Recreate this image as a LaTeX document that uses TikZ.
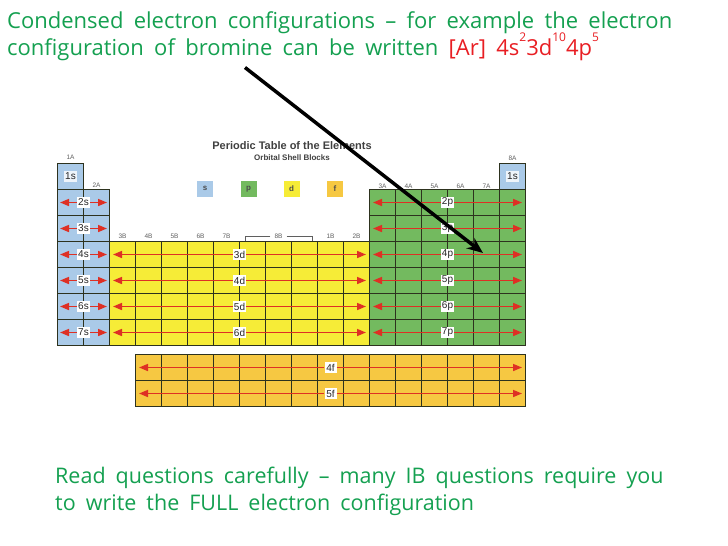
\documentclass[tikz,border=0pt]{standalone}
\usepackage{fontspec}
\setmainfont{Open Sans}[WordSpace=1.8]
\newfontfamily\tablefont{Liberation Sans}
\usetikzlibrary{arrows.meta,positioning}
\definecolor{slidegreen}{RGB}{20,160,80}
\definecolor{slidered}{RGB}{232,30,35}
\definecolor{sblue}{RGB}{170,202,232}
\definecolor{pgreen}{RGB}{115,186,95}
\definecolor{dyellow}{RGB}{246,236,55}
\definecolor{forange}{RGB}{246,200,66}
\definecolor{shellred}{RGB}{222,48,36}
\definecolor{gridline}{RGB}{45,50,30}
\definecolor{grouptext}{RGB}{95,95,95}
\newcommand{\elecsup}[1]{\raisebox{14pt}{\fontsize{12}{12}\selectfont #1}}
\tikzset{
  slide text/.style={
    anchor=base west, inner sep=0pt, text=slidegreen,
    font=\fontsize{21.5}{27}\selectfont
  },
  block cell/.style={draw=gridline, line width=1.1pt},
  shell label/.style={
    fill=white, inner sep=1pt, minimum width=12pt, minimum height=11pt,
    font=\tablefont\fontsize{10}{10}\selectfont, text=black!85
  },
  shell arrow/.style={-{Triangle[length=9pt,width=7pt]}, line width=1.6pt, shellred},
  group label/.style={inner sep=0pt, text=grouptext, font=\tablefont\fontsize{6.5}{6.5}\selectfont},
  legend box/.style={
    minimum width=16pt, minimum height=16pt, inner sep=0pt,
    font=\tablefont\bfseries\fontsize{8}{8}\selectfont, text=black!70
  },
  pointer arrow/.style={-{Stealth[length=16pt,width=13pt]}, line width=3.5pt, black}
}

\begin{document}
\begin{tikzpicture}[x=1pt, y=-1pt]
    \useasboundingbox (0,0) rectangle (728,546);
    % block colours
    \fill[sblue] (57.5,163.5) rectangle (83.5,189.5);
    \fill[sblue] (57.5,189.5) rectangle (109.5,345.5);
    \fill[sblue] (499.5,163.5) rectangle (525.5,189.5);
    \fill[dyellow] (109.5,241.5) rectangle (369.5,345.5);
    \fill[pgreen] (369.5,189.5) rectangle (525.5,345.5);
    \fill[forange] (135.5,354.5) rectangle (525.5,406.5);
    % grid
    \draw[block cell] (57.5,163.5) rectangle ++(26,26);
    \draw[block cell] (499.5,163.5) rectangle ++(26,26);
    \foreach \r in {2,...,7}
      \foreach \c in {1,2,13,14,15,16,17,18}
        \draw[block cell] ({57.5+(\c-1)*26},{163.5+(\r-1)*26}) rectangle ++(26,26);
    \foreach \r in {4,...,7}
      \foreach \c in {3,...,12}
        \draw[block cell] ({57.5+(\c-1)*26},{163.5+(\r-1)*26}) rectangle ++(26,26);
    \foreach \r in {0,1}
      \foreach \c in {4,...,18}
        \draw[block cell] ({57.5+(\c-1)*26},{354.5+\r*26}) rectangle ++(26,26);
    % shells
    \node[shell label, fill=white!80!sblue] (h1s) at (70.5,176) {1s};
    \node[shell label, fill=white!80!sblue] (he1s) at (512.5,176) {1s};
    \foreach \n in {2,...,7} {
      \pgfmathsetmacro{\yc}{163.5+(\n-0.5)*26}
      \node[shell label] (s\n) at (83.5,\yc) {\n s};
      \coordinate (s\n-w) at (60,\yc);
      \coordinate (s\n-e) at (107,\yc);
      \draw[shell arrow] (s\n) -- (s\n-w);
      \draw[shell arrow] (s\n) -- (s\n-e);
      \node[shell label] (p\n) at (447.5,\yc) {\n p};
      \coordinate (p\n-w) at (373,\yc);
      \coordinate (p\n-e) at (522,\yc);
      \draw[shell arrow] (p\n) -- (p\n-w);
      \draw[shell arrow] (p\n) -- (p\n-e);
    }
    \foreach \n in {3,...,6} {
      \pgfmathsetmacro{\yc}{163.5+(\n+0.5)*26}
      \node[shell label] (d\n) at (239.5,\yc) {\n d};
      \coordinate (d\n-w) at (113,\yc);
      \coordinate (d\n-e) at (366,\yc);
      \draw[shell arrow] (d\n) -- (d\n-w);
      \draw[shell arrow] (d\n) -- (d\n-e);
    }
    \foreach \n in {4,5} {
      \pgfmathsetmacro{\yc}{367.5+(\n-4)*26}
      \node[shell label] (f\n) at (330.5,\yc) {\n f};
      \coordinate (f\n-w) at (139,\yc);
      \coordinate (f\n-e) at (522,\yc);
      \draw[shell arrow] (f\n) -- (f\n-w);
      \draw[shell arrow] (f\n) -- (f\n-e);
    }
    % group labels
    \node[group label] (g1A) at (70.5,157) {1A};
    \node[group label] (g2A) at (96.5,185) {2A};
    \foreach \g [count=\c from 3] in {3B,4B,5B,6B,7B}
      \node[group label] (g\g) at ({57.5+(\c-0.5)*26},236.5) {\g};
    \node[group label, inner xsep=4pt] (g8B) at (278.5,236.5) {8B};
    \coordinate (b8l) at (245,236.5);
    \coordinate (b8r) at (312,236.5);
    \draw[grouptext, line width=0.5pt] (g8B.west) -- (b8l) -- ++(0,4);
    \draw[grouptext, line width=0.5pt] (g8B.east) -- (b8r) -- ++(0,4);
    \node[group label] (g1B) at (330.5,236.5) {1B};
    \node[group label] (g2B) at (356.5,236.5) {2B};
    \foreach \g [count=\c from 13] in {3A,4A,5A,6A,7A}
      \node[group label] (g\g) at ({57.5+(\c-0.5)*26},186) {\g};
    \node[group label] (g8A) at (512.5,158.5) {8A};
    % title and legend
    \node[text=black!75, font=\tablefont\bfseries\fontsize{11}{11}\selectfont] (ptitle) at (292,145.5) {Periodic Table of the Elements};
    \node[text=black!75, font=\tablefont\bfseries\fontsize{8}{8}\selectfont] (psub) at (292,158) {Orbital Shell Blocks};
    \node[legend box, fill=sblue] (key s) at (205,188.7) {s};
    \node[legend box, fill=pgreen] (key p) at (248.5,188.7) {p};
    \node[legend box, fill=dyellow] (key d) at (291.5,188.7) {d};
    \node[legend box, fill=forange] (key f) at (335,188.7) {f};
    % slide text
    \node[slide text, font=\fontsize{22}{27}\selectfont] (intro1) at (7,28.5) {Condensed electron configurations -- for example the electron};
    \node[slide text, font=\fontsize{22}{27}\selectfont] (intro2) at (7,55.5) {configuration of bromine can be written \textcolor{slidered}{[Ar] 4s\elecsup{2}3d\elecsup{10}4p\elecsup{5}}};
    \node[slide text] (note1) at (55,483) {Read questions carefully -- many IB questions require you};
    \node[slide text] (note2) at (55,510) {to write the FULL electron configuration};
    \coordinate (bromine) at (245,67.5);
    \coordinate (fourp) at (483,253);
    \draw[pointer arrow] (bromine) -- (fourp);
  \end{tikzpicture}
\end{document}
